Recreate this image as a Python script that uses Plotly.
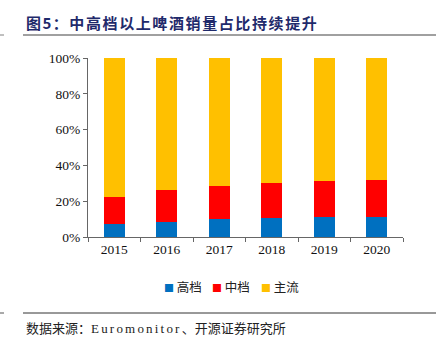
import plotly.graph_objects as go

years = ["2015", "2016", "2017", "2018", "2019", "2020"]
high = [7.2, 8.5, 9.8, 10.5, 10.9, 11.2]
mid = [15.0, 17.8, 18.7, 19.5, 20.4, 20.6]
main = [77.8, 73.7, 71.5, 70.0, 68.7, 68.2]
series_names = ["高档", "中档", "主流"]
series_colors = ["#0070C0", "#FF0000", "#FFC000"]
yticks = [0, 20, 40, 60, 80, 100]
ytick_text = ["0%", "20%", "40%", "60%", "80%", "100%"]

serif = "Times New Roman"
cjk = "Noto Sans CJK SC"

W, HT = 441, 341
ML, MR, MT, MB = 88, 38, 58, 104
PW = W - ML - MR
PH = HT - MT - MB

def px_x(pix):
    return (pix - ML) / PW

def px_y(pix):
    return (HT - MB - pix) / PH

fig = go.Figure()
for vals, name, col in zip([high, mid, main], series_names, series_colors):
    fig.add_trace(go.Bar(x=years, y=vals, name=name, marker_color=col, marker_line_width=0))

fig.update_layout(
    barmode="stack",
    bargap=0.6,
    width=W, height=HT,
    margin=dict(l=ML, r=MR, t=MT, b=MB),
    plot_bgcolor="white", paper_bgcolor="white",
    showlegend=False,
    xaxis=dict(showline=True, linecolor="#666666", linewidth=1.2, ticks="outside",
               tickson="boundaries", ticklen=4, tickcolor="#666666",
               tickfont=dict(family=serif, size=13.5, color="#111")),
    yaxis=dict(range=[0, 100], tickvals=yticks, ticktext=ytick_text, showgrid=False,
               showline=True, linecolor="#666666", linewidth=1.2, ticks="outside",
               ticklen=4, tickcolor="#666666",
               tickfont=dict(family=serif, size=13.5, color="#111")),
)

# legend drawn as text items
leg_x = [162, 210, 259]
for xpos, name, col in zip(leg_x, series_names, series_colors):
    fig.add_annotation(xref="paper", yref="paper", x=px_x(xpos), y=px_y(286),
                       xanchor="left", yanchor="middle", showarrow=False,
                       text=f"<span style='color:{col};font-size:10px'>■</span> {name}",
                       font=dict(family=cjk, size=12.5, color="#222"))

fig.add_annotation(xref="paper", yref="paper", x=px_x(24), y=px_y(22), xanchor="left", yanchor="middle",
                   text="<b><span style='letter-spacing:1.5px'>图5：</span><span style='letter-spacing:1.6px'>中高档以上啤酒销量占比持续提升</span></b>",
                   showarrow=False,
                   font=dict(family=cjk, size=15, color="#1F2A6B"))
fig.add_shape(type="line", xref="paper", yref="paper", x0=px_x(23), x1=px_x(436),
              y0=px_y(35), y1=px_y(35), line=dict(color="#808080", width=1.5))
fig.add_shape(type="line", xref="paper", yref="paper", x0=px_x(0), x1=px_x(4),
              y0=px_y(35), y1=px_y(35), line=dict(color="#808080", width=1))
fig.add_annotation(xref="paper", yref="paper", x=px_x(24), y=px_y(327), xanchor="left", yanchor="middle",
                   text=f"数据来源：<span style='font-family:{serif};letter-spacing:2.2px'>Euromonitor</span>、开源证券研究所",
                   showarrow=False,
                   font=dict(family=cjk, size=13, color="#222"))
fig.add_shape(type="line", xref="paper", yref="paper", x0=px_x(23), x1=px_x(436),
              y0=px_y(313), y1=px_y(313), line=dict(color="#333", width=1))
fig.add_shape(type="line", xref="paper", yref="paper", x0=px_x(0), x1=px_x(4),
              y0=px_y(313), y1=px_y(313), line=dict(color="#555", width=1))

fig.write_html("out.html")
